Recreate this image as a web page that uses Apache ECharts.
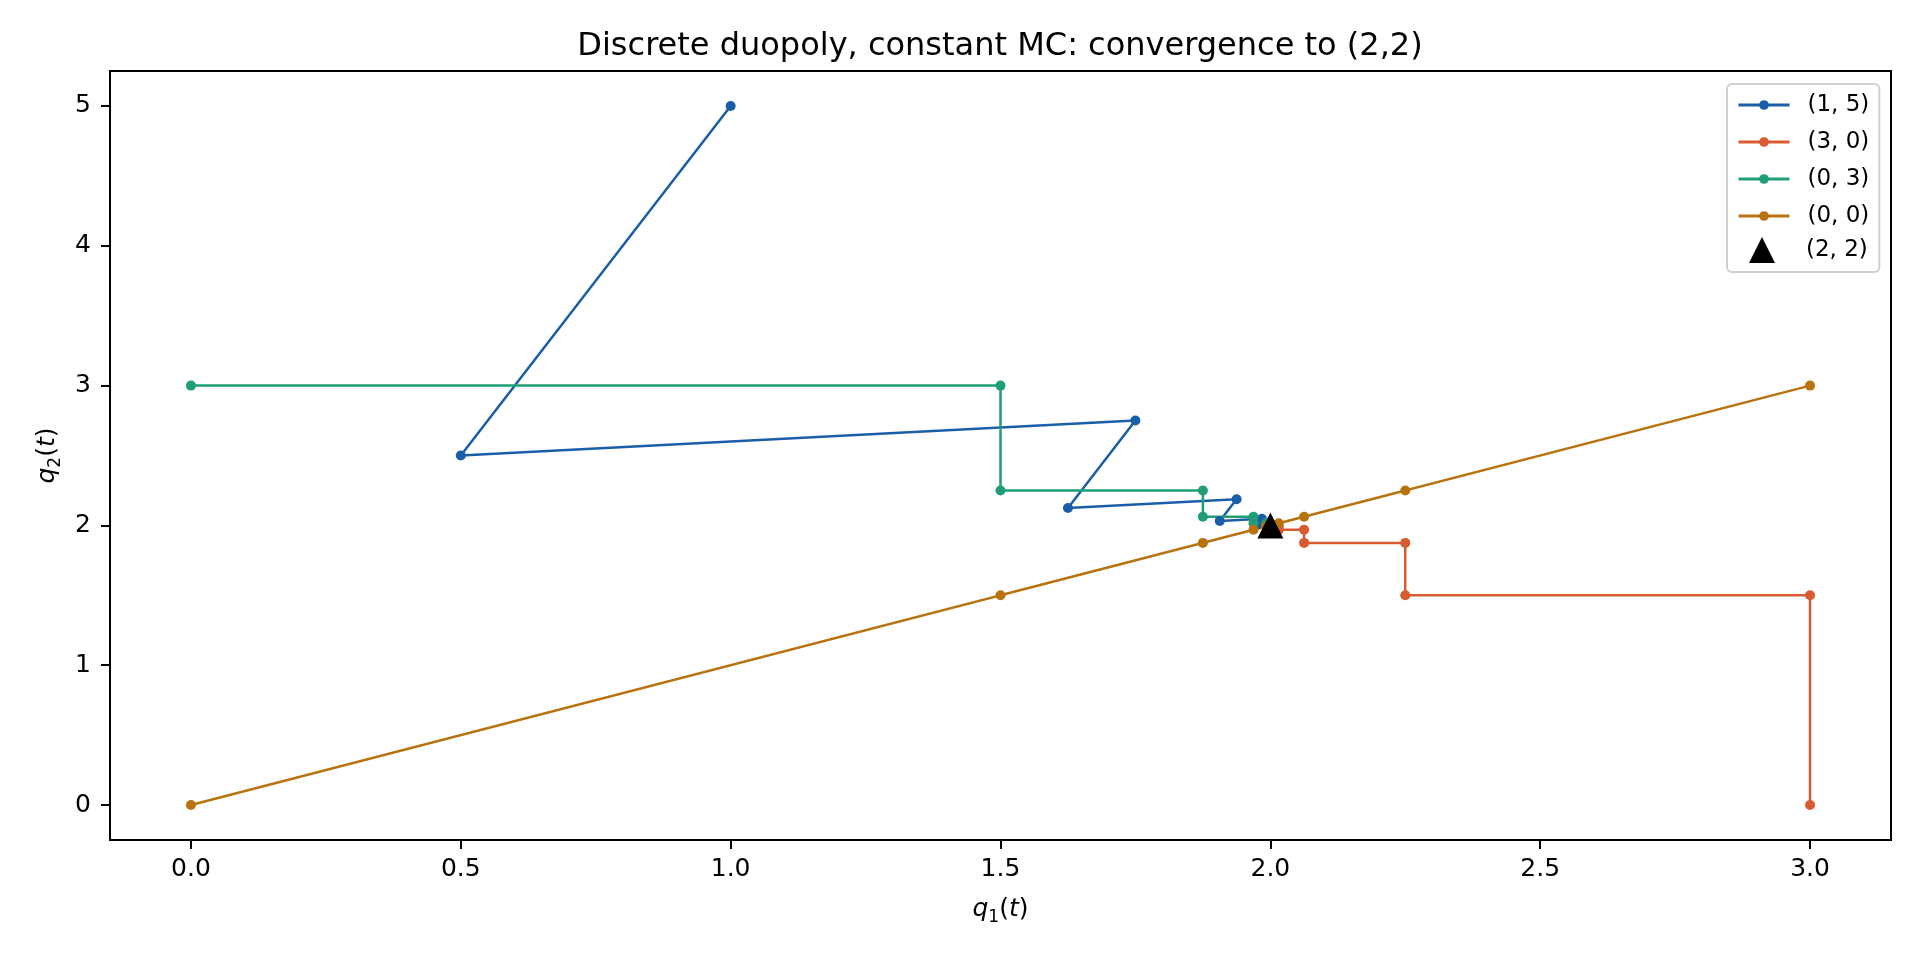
<!DOCTYPE html>
<html>
<head>
<meta charset="utf-8">
<script src="https://cdn.jsdelivr.net/npm/echarts@6/dist/echarts.min.js"></script>
<style>
  html, body { margin: 0; padding: 0; background: #fff; }
  #chart { width: 1920px; height: 960px; }
</style>
</head>
<body>
<div id="chart"></div>
<script>
// trajectories, [q1, q2] per step
const path15 = [[1, 5], [0.5, 2.5], [1.75, 2.75], [1.625, 2.125], [1.9375, 2.1875],
    [1.90625, 2.03125], [1.984375, 2.046875], [1.9765625, 2.0078125],
    [1.99609375, 2.01171875], [1.994140625, 2.001953125], [1.9990234, 2.0029297]]
const path30 = [[3, 0], [3, 1.5], [2.25, 1.5], [2.25, 1.875], [2.0625, 1.875],
    [2.0625, 1.96875], [2.015625, 1.96875], [2.015625, 1.9921875],
    [2.00390625, 1.9921875], [2.00390625, 1.998046875], [2.0009766, 1.998046875]]
const path03 = [[0, 3], [1.5, 3], [1.5, 2.25], [1.875, 2.25], [1.875, 2.0625],
    [1.96875, 2.0625], [1.96875, 2.015625], [1.9921875, 2.015625],
    [1.9921875, 2.00390625], [1.998046875, 2.00390625], [1.998046875, 2.0009766]]
const path00 = [[0, 0], [3, 3], [1.5, 1.5], [2.25, 2.25], [1.875, 1.875],
    [2.0625, 2.0625], [1.96875, 1.96875], [2.015625, 2.015625],
    [1.9921875, 1.9921875], [2.00390625, 2.00390625], [1.998046875, 1.998046875]]
const equilibrium = [[2, 2]]

const seriesNames = ['(1, 5)', '(3, 0)', '(0, 3)', '(0, 0)']
const eqName = '(2, 2)'
const seriesColors = ['#1b5ea8', '#d95b30', '#1f9e77', '#b8730f']
const xTicks = [0, 0.5, 1, 1.5, 2, 2.5, 3]
const yTicks = [0, 1, 2, 3, 4, 5]

const FONT = 'DejaVu Sans'

function axisName(sub) {
    return {
        text: '{i|q}{s|' + sub + '}{n|(}{i|t}{n|)}',
        style: {
            fontFamily: FONT,
            color: '#000',
            rich: {
                i: { fontFamily: FONT, fontSize: 25, fontStyle: 'italic', lineHeight: 34, color: '#000' },
                n: { fontFamily: FONT, fontSize: 25, lineHeight: 34, color: '#000' },
                s: { fontFamily: FONT, fontSize: 17, lineHeight: 20, verticalAlign: 'bottom', color: '#000' }
            }
        }
    }
}

function lineSeries(name, data, color) {
    return {
        name: name,
        type: 'line',
        data: data,
        symbol: 'circle',
        symbolSize: 10,
        showSymbol: true,
        color: color,
        lineStyle: { color: color, width: 2.5 },
        itemStyle: { color: color, opacity: 1 },
        animation: false
    }
}

let myChart = echarts.init(document.getElementById('chart'))
let xName = axisName('1')
let yName = axisName('2')

// icon-to-text gap is fixed at 5px in echarts, so widen it with text padding
function legendText(gapExtra) {
    return { fontFamily: FONT, fontSize: 23, lineHeight: 24, color: '#000', padding: [0, 0, 0, gapExtra] }
}

let option = {
    backgroundColor: '#fff',
    animation: false,
    title: {
        text: 'Discrete duopoly, constant MC: convergence to (2,2)',
        left: 995,
        top: 26,
        textAlign: 'center',
        textStyle: { fontFamily: FONT, fontSize: 32, fontWeight: 'normal', color: '#000' }
    },
    legend: [{
        // line entries; bottom padding leaves room for the triangle row
        orient: 'vertical',
        left: 1727,
        top: 84,
        padding: [9, 10, 44, 10],
        itemGap: 13,
        itemWidth: 51,
        itemHeight: 12,
        lineStyle: { width: 3 },
        borderColor: '#d0d0d0',
        borderWidth: 2,
        borderRadius: 5,
        backgroundColor: 'rgba(255,255,255,0.8)',
        textStyle: legendText(13),
        data: seriesNames
    }, {
        orient: 'vertical',
        left: 1749,
        top: 237,
        padding: 0,
        itemWidth: 26,
        itemHeight: 26,
        textStyle: legendText(26),
        data: [{ name: eqName, icon: 'triangle', itemStyle: { color: '#000' } }]
    }],
    grid: {
        left: 110,
        right: 29,
        top: 71,
        bottom: 120,
        show: true,
        borderColor: '#000',
        borderWidth: 2
    },
    xAxis: {
        type: 'value',
        min: -0.15,
        max: 3.15,
        name: xName.text,
        nameLocation: 'middle',
        nameGap: 52,
        nameTextStyle: xName.style,
        axisLine: { show: true, onZero: false, lineStyle: { color: '#000', width: 2 } },
        axisTick: { show: true, length: 9, customValues: xTicks, lineStyle: { color: '#000', width: 2 } },
        axisLabel: {
            customValues: xTicks,
            margin: 17,
            fontFamily: FONT,
            fontSize: 25,
            color: '#000',
            formatter: function(v) { return v.toFixed(1) }
        },
        splitLine: { show: false }
    },
    yAxis: {
        type: 'value',
        min: -0.25,
        max: 5.25,
        name: yName.text,
        nameLocation: 'middle',
        nameRotate: 90,
        nameGap: 46,
        nameTextStyle: yName.style,
        axisLine: { show: true, onZero: false, lineStyle: { color: '#000', width: 2 } },
        axisTick: { show: true, length: 9, customValues: yTicks, lineStyle: { color: '#000', width: 2 } },
        axisLabel: {
            customValues: yTicks,
            margin: 19,
            fontFamily: FONT,
            fontSize: 25,
            color: '#000',
            formatter: function(v) { return String(v) }
        },
        splitLine: { show: false }
    },
    series: [
        lineSeries(seriesNames[0], path15, seriesColors[0]),
        lineSeries(seriesNames[1], path30, seriesColors[1]),
        lineSeries(seriesNames[2], path03, seriesColors[2]),
        lineSeries(seriesNames[3], path00, seriesColors[3]),
        {
            name: eqName,
            type: 'scatter',
            data: equilibrium,
            symbol: 'triangle',
            symbolSize: 26,
            itemStyle: { color: '#000', opacity: 1 },
            z: 5,
            animation: false
        }
    ]
};
myChart.setOption(option);
</script>
</body>
</html>
